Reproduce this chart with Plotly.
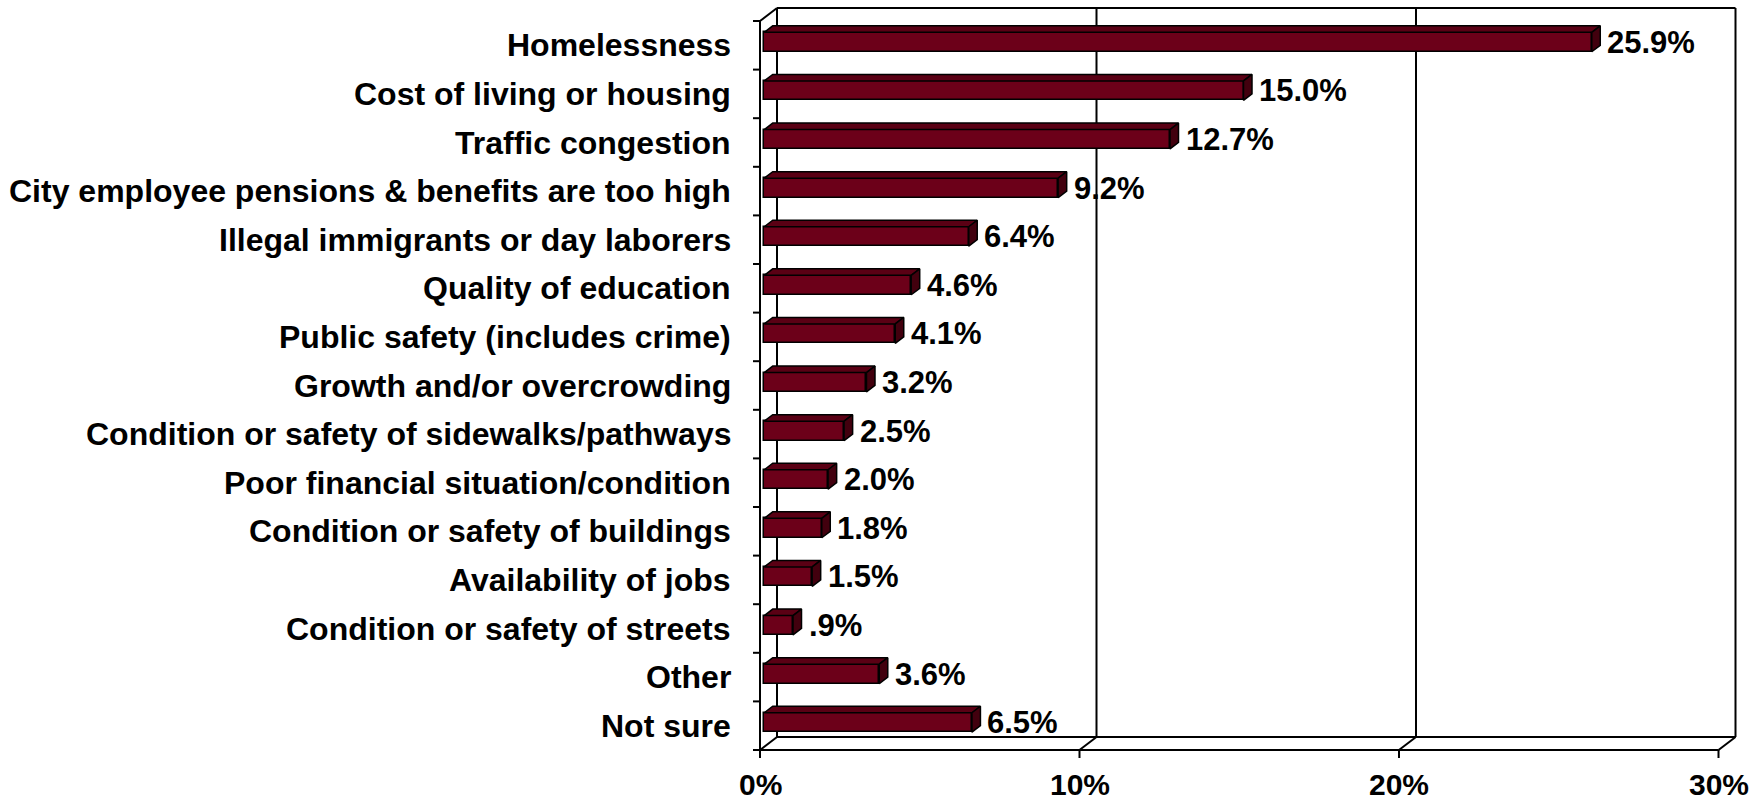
import plotly.graph_objects as go

# Survey results: most important issue facing the city
categories = [
    "Homelessness",
    "Cost of living or housing",
    "Traffic congestion",
    "City employee pensions & benefits are too high",
    "Illegal immigrants or day laborers",
    "Quality of education",
    "Public safety (includes crime)",
    "Growth and/or overcrowding",
    "Condition or safety of sidewalks/pathways",
    "Poor financial situation/condition",
    "Condition or safety of buildings",
    "Availability of jobs",
    "Condition or safety of streets",
    "Other",
    "Not sure",
]
values = [25.9, 15.0, 12.7, 9.2, 6.4, 4.6, 4.1, 3.2, 2.5, 2.0, 1.8, 1.5, 0.9, 3.6, 6.5]
x_ticks = [0, 10, 20, 30]
x_tick_labels = ["0%", "10%", "20%", "30%"]

# ---- page geometry ----
W, H = 1763, 801
X0_PX = 760          # pixel column of the 0% front axis
PX_PER_PCT = 31.95   # horizontal scale
Y_TOP_PX = 21        # top of the front category axis
PX_PER_CAT = 48.6    # height of one category band
DEPTH_PX = (17, -13) # 3-D depth offset of the back wall (right, up)

X_MAX = x_ticks[-1]
n = len(categories)
DX = DEPTH_PX[0] / PX_PER_PCT
DY = DEPTH_PX[1] / PX_PER_CAT
BAR_W = 0.4

x_range = [-X0_PX / PX_PER_PCT, (W - X0_PX) / PX_PER_PCT]
y_range = [(H - Y_TOP_PX) / PX_PER_CAT - 0.5, -Y_TOP_PX / PX_PER_CAT - 0.5]

FRONT = "#6C0019"
TOP = "#5A0014"
SIDE = "#42000E"
EDGE = "#000000"
FONT = "Liberation Sans, Arial, sans-serif"

y_top, y_bot = -0.5, n - 0.5

# ---- walls, floor, grid and axis lines ----
shapes = []


def seg(x0, y0, x1, y1, w=2):
    shapes.append(dict(type="line", xref="x", yref="y", x0=x0, y0=y0, x1=x1, y1=y1,
                       line=dict(color=EDGE, width=w), layer="below"))


# back wall outline
seg(DX, y_top + DY, X_MAX + DX, y_top + DY)
seg(DX, y_bot + DY, X_MAX + DX, y_bot + DY)
seg(DX, y_top + DY, DX, y_bot + DY)
seg(X_MAX + DX, y_top + DY, X_MAX + DX, y_bot + DY)
# gridlines on the back wall
for t in x_ticks[1:-1]:
    seg(t + DX, y_top + DY, t + DX, y_bot + DY)
# floor diagonals
for t in x_ticks:
    seg(t, y_bot, t + DX, y_bot + DY)
# side wall top edge
seg(0, y_top, DX, y_top + DY)
# front axes
seg(0, y_top, 0, y_bot)
seg(0, y_bot, X_MAX, y_bot)
# category tick marks (on band boundaries)
for i in range(n + 1):
    b = i - 0.5
    seg(0, b, -7 / PX_PER_PCT, b)
# value tick marks
for t in x_ticks:
    seg(t, y_bot, t, y_bot + 8 / PX_PER_CAT)

fig = go.Figure()

# front faces of the bars
fig.add_trace(go.Bar(
    orientation="h",
    x=values,
    y=[k + 0.25 * DY for k in range(n)],
    base=0.25 * DX,
    width=BAR_W,
    marker=dict(color=FRONT, line=dict(color=EDGE, width=1.5)),
    hoverinfo="skip",
    showlegend=False,
))

# top and end faces of the bars
top_x, top_y, side_x, side_y = [], [], [], []
for k, v in enumerate(values):
    yt = k - BAR_W / 2
    yb = k + BAR_W / 2
    f, b = 0.25, 0.75
    top_x += [f * DX, v + f * DX, v + b * DX, b * DX, f * DX, None]
    top_y += [yt + f * DY, yt + f * DY, yt + b * DY, yt + b * DY, yt + f * DY, None]
    side_x += [v + f * DX, v + b * DX, v + b * DX, v + f * DX, v + f * DX, None]
    side_y += [yt + f * DY, yt + b * DY, yb + b * DY, yb + f * DY, yt + f * DY, None]

fig.add_trace(go.Scatter(x=top_x, y=top_y, mode="lines", fill="toself",
                         fillcolor=TOP, line=dict(color=EDGE, width=1.5),
                         hoverinfo="skip", showlegend=False))
fig.add_trace(go.Scatter(x=side_x, y=side_y, mode="lines", fill="toself",
                         fillcolor=SIDE, line=dict(color=EDGE, width=1.5),
                         hoverinfo="skip", showlegend=False))

annotations = []


def pct_text(v):
    s = f"{v:.1f}%"
    return s[1:] if s.startswith("0.") else s


# value labels
for k, v in enumerate(values):
    annotations.append(dict(
        x=v, y=k, xref="x", yref="y", text=pct_text(v), showarrow=False,
        xanchor="left", yanchor="middle", xshift=0.75 * DEPTH_PX[0] + 5, yshift=3,
        font=dict(family=FONT, size=31, color="#000000", weight="bold"),
    ))

# category labels
for k, c in enumerate(categories):
    annotations.append(dict(
        x=0, y=k, xref="x", yref="y", text=c, showarrow=False,
        xanchor="right", yanchor="middle", xshift=-27,
        font=dict(family=FONT, size=32, color="#000000", weight="bold"),
    ))

# value axis labels
for t, lab in zip(x_ticks, x_tick_labels):
    annotations.append(dict(
        x=t, y=y_bot, xref="x", yref="y", text=lab, showarrow=False,
        xanchor="center", yanchor="middle", yshift=-34,
        font=dict(family=FONT, size=30, color="#000000", weight="bold"),
    ))

fig.update_layout(
    width=W, height=H, autosize=False,
    margin=dict(l=0, r=0, t=0, b=0),
    paper_bgcolor="white", plot_bgcolor="white",
    xaxis=dict(range=x_range, visible=False, fixedrange=True),
    yaxis=dict(range=y_range, visible=False, fixedrange=True),
    shapes=shapes,
    annotations=annotations,
    bargap=0,
)

fig.write_html("out.html")
